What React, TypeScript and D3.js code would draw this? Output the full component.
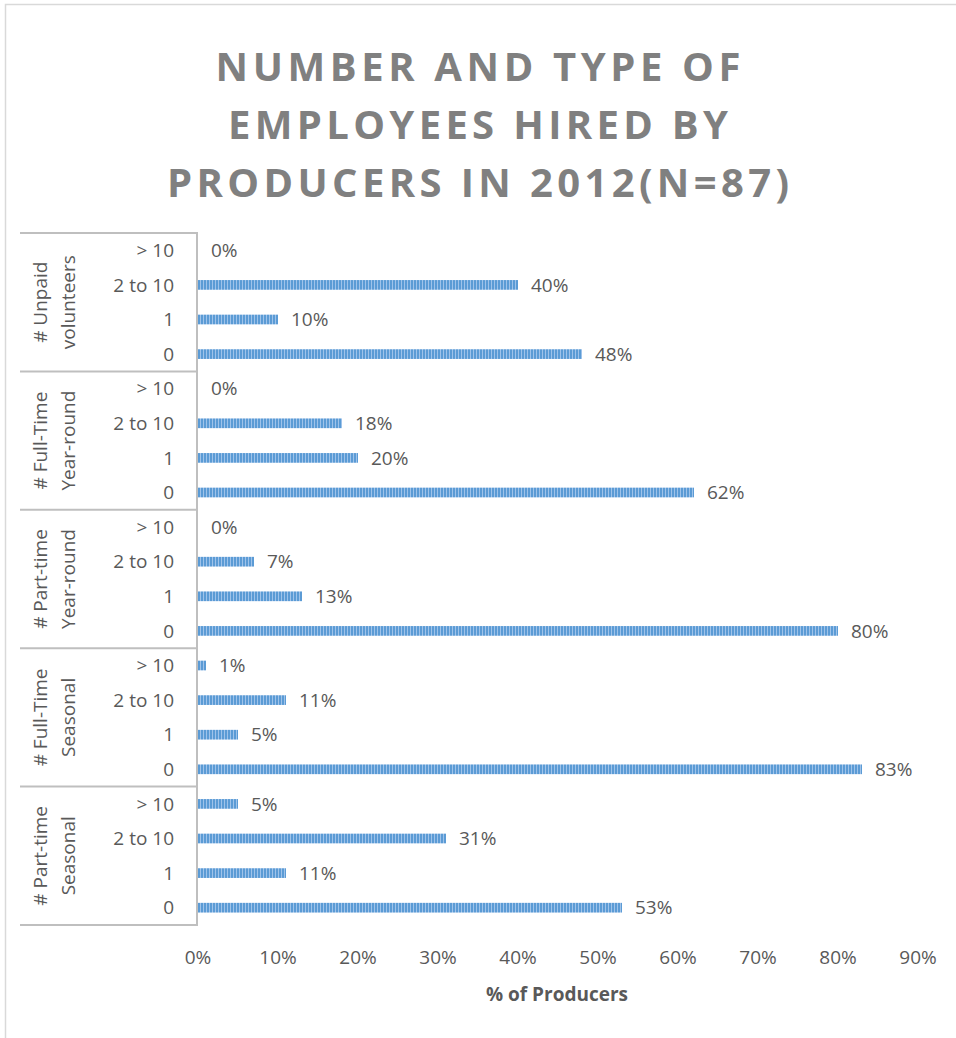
import React from "react";
import * as d3 from "d3";

const groups = [
  ["# Unpaid", "volunteers"],
  ["# Full-Time", "Year-round"],
  ["# Part-time", "Year-round"],
  ["# Full-Time", "Seasonal"],
  ["# Part-time", "Seasonal"],
];
const categories = ["> 10", "2 to 10", "1", "0"];
const unpaidVolunteers = [0, 40, 10, 48];
const fullTimeYearRound = [0, 18, 20, 62];
const partTimeYearRound = [0, 7, 13, 80];
const fullTimeSeasonal = [1, 11, 5, 83];
const partTimeSeasonal = [5, 31, 11, 53];
const seriesValues = [unpaidVolunteers, fullTimeYearRound, partTimeYearRound, fullTimeSeasonal, partTimeSeasonal];
const xTicks = [0, 10, 20, 30, 40, 50, 60, 70, 80, 90];
const titleLines = ["NUMBER AND TYPE OF", "EMPLOYEES HIRED BY", "PRODUCERS IN 2012(N=87)"];

export default function App() {
  const W = 956, H = 1038;
  const x = d3.scaleLinear().domain([0, 90]).range([198, 918]);
  const rows = groups.flatMap((g, gi) => categories.map((c, ci) => ({ key: `${gi}-${ci}`, gi, ci, cat: c, v: seriesValues[gi][ci] })));
  const y = d3.scaleBand<string>().domain(rows.map((r) => r.key)).range([233, 925]).paddingInner(0.72).paddingOuter(0.36);
  const rowH = (925 - 233) / rows.length;
  const font = "'Open Sans', 'Liberation Sans', sans-serif";
  const gray = "#595959";
  const titleW = [525, 500, 622];
  const fs = 19;

  return (
    <svg width={W} height={H} style={{ position: "absolute", left: 0, top: 0 }} fontFamily={font}>
      <defs>
        <pattern id="stripes" width="3" height="10" patternUnits="userSpaceOnUse">
          <rect width="3" height="10" fill="#9fc3ea" />
          <rect width="2" height="10" fill="#5b9bd5" />
        </pattern>
      </defs>
      <rect x={0} y={0} width={W} height={H} fill="#fff" />
      <rect x={5.5} y={4.5} width={W + 20} height={H + 20} fill="none" stroke="#d9d9d9" strokeWidth={1.5} />
      {titleLines.map((t, i) => (
        <text key={i} x={478} y={81 + i * 58} textAnchor="middle" fontSize={40} fontWeight="bold" fill="#808080"
          textLength={titleW[i]} lengthAdjust="spacing">{t}</text>
      ))}
      {d3.range(groups.length + 1).map((i) => {
        const yy = 233 + i * 4 * rowH;
        return <line key={i} x1={20} x2={198} y1={yy} y2={yy} stroke="#bfbfbf" strokeWidth={2} />;
      })}
      <line x1={197} x2={197} y1={233} y2={926} stroke="#bfbfbf" strokeWidth={2} />
      {groups.map((g, gi) => {
        const cy = 233 + (gi * 4 + 2) * rowH;
        return (
          <g key={gi} transform={`translate(0,${cy}) rotate(-90)`}>
            <text x={0} y={47} textAnchor="middle" fontSize={fs} fill={gray}>{g[0]}</text>
            <text x={0} y={75} textAnchor="middle" fontSize={fs} fill={gray}>{g[1]}</text>
          </g>
        );
      })}
      {rows.map((r) => {
        const by = y(r.key)!;
        const cy = by + y.bandwidth() / 2;
        return (
          <g key={r.key}>
            <text x={174} y={cy} dy="0.35em" textAnchor="end" fontSize={fs} fill={gray}>{r.cat}</text>
            {r.v > 0 && <rect x={x(0)} y={by} width={x(r.v) - x(0)} height={y.bandwidth()} fill="url(#stripes)" />}
            <text x={x(r.v) + 13} y={cy} dy="0.35em" fontSize={fs} fill={gray}>{`${r.v}%`}</text>
          </g>
        );
      })}
      {xTicks.map((t) => (
        <text key={t} x={x(t)} y={964} textAnchor="middle" fontSize={fs} fill={gray}>{`${t}%`}</text>
      ))}
      <text x={557} y={1001} textAnchor="middle" fontSize={19} fontWeight="bold" fill={gray}>% of Producers</text>
    </svg>
  );
}
